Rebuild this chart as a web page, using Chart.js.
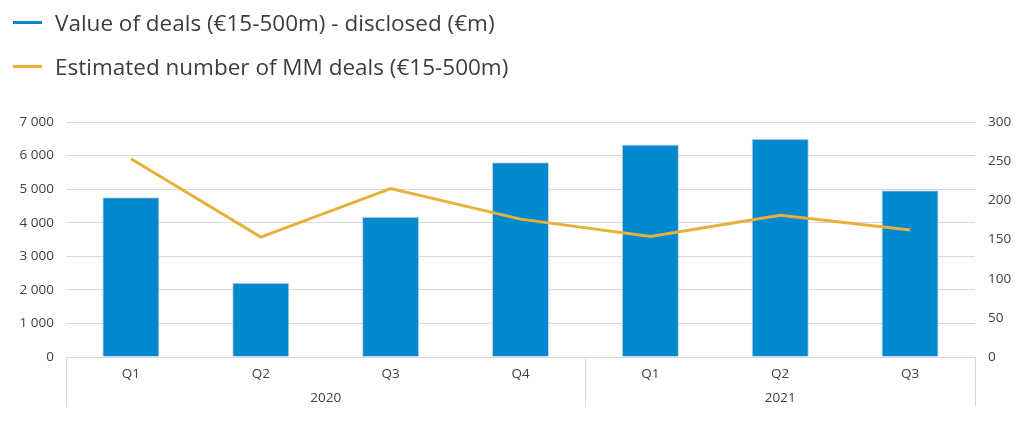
<!DOCTYPE html>
<html>
<head>
<meta charset="utf-8">
<script src="https://cdn.jsdelivr.net/npm/chart.js@4/dist/chart.umd.min.js"></script>
<style>
  html, body { margin: 0; padding: 0; background: #ffffff; }
  #wrap { position: relative; width: 1024px; height: 425px; overflow: hidden; }
  #chart { position: absolute; left: 0; top: 0; }
  .leg { position: absolute; left: 13px; display: flex; align-items: center; font-family: "Open Sans", sans-serif; font-size: 22.5px; color: #3d3d3d; white-space: nowrap; }
  .leg span.sw { display: inline-block; width: 29px; height: 3px; margin-right: 13px; }
</style>
</head>
<body>
<div id="wrap">
  <canvas id="chart" width="1024" height="425"></canvas>
  <div class="leg" style="top:7px"><span class="sw" style="background:#0089CF"></span><span id="l1"></span></div>
  <div class="leg" style="top:51px"><span class="sw" style="background:#E8B13C"></span><span id="l2"></span></div>
</div>
<script>
const categories = ['Q1', 'Q2', 'Q3', 'Q4', 'Q1', 'Q2', 'Q3'];
const years = ['2020', '2021'];
const yearSpans = [4, 3];
const dealValues = [4760, 2210, 4180, 5800, 6330, 6500, 4970];
const dealCounts = [253, 153, 215, 176, 154, 181, 162];
const valueLabel = 'Value of deals (€15-500m) - disclosed (€m)';
const countLabel = 'Estimated number of MM deals (€15-500m)';

document.getElementById('l1').textContent = valueLabel;
document.getElementById('l2').textContent = countLabel;

const tickFont = { family: '"Open Sans", sans-serif', size: 13.5 };
const tickColor = '#404040';
const gridColor = '#d9d9d9';

const yearAxisPlugin = {
  id: 'yearAxis',
  afterDraw(chart) {
    const ctx = chart.ctx;
    const xs = chart.scales.x;
    const area = chart.chartArea;
    const n = categories.length;
    const step = (xs.right - xs.left) / n;
    const bottom = area.bottom + 49;
    ctx.save();
    ctx.strokeStyle = gridColor;
    ctx.lineWidth = 1;
    let idx = 0;
    const bounds = [xs.left];
    yearSpans.forEach(s => { idx += s; bounds.push(xs.left + step * idx); });
    bounds.forEach(bx => {
      const px = Math.round(bx) + 0.5;
      ctx.beginPath();
      ctx.moveTo(px, area.bottom);
      ctx.lineTo(px, bottom);
      ctx.stroke();
    });
    ctx.fillStyle = tickColor;
    ctx.font = '13.5px "Open Sans", sans-serif';
    ctx.textAlign = 'center';
    ctx.textBaseline = 'middle';
    years.forEach((y, i) => {
      const cx = (bounds[i] + bounds[i + 1]) / 2;
      ctx.fillText(y, cx, area.bottom + 41);
    });
    ctx.restore();
  }
};

new Chart(document.getElementById('chart'), {
  data: {
    labels: categories,
    datasets: [
      {
        type: 'line',
        label: countLabel,
        data: dealCounts,
        yAxisID: 'y1',
        borderColor: '#E8B13C',
        backgroundColor: '#E8B13C',
        borderWidth: 3,
        pointRadius: 0,
        tension: 0,
        order: 0
      },
      {
        type: 'bar',
        label: valueLabel,
        data: dealValues,
        yAxisID: 'y',
        backgroundColor: '#0089CF',
        borderColor: 'rgba(205,205,205,0.9)',
        borderWidth: 1,
        barPercentage: 0.44,
        categoryPercentage: 1.0,
        order: 1
      }
    ]
  },
  options: {
    responsive: false,
    animation: false,
    layout: { padding: { left: 0, right: 0, top: 122, bottom: 0 } },
    plugins: { legend: { display: false }, tooltip: { enabled: false } },
    scales: {
      x: {
        type: 'category',
        grid: { display: false },
        border: { display: true, color: gridColor, width: 1 },
        ticks: { color: tickColor, font: tickFont, padding: 1, maxRotation: 0 },
        afterFit(s) { s.height = 68; }
      },
      y: {
        position: 'left',
        min: 0, max: 7000,
        ticks: {
          stepSize: 1000, color: tickColor, font: tickFont, padding: 12,
          callback: v => v === 0 ? '0' : String(v).replace(/\B(?=(\d{3})+(?!\d))/g, ' ')
        },
        grid: { color: gridColor, lineWidth: 1, drawTicks: false },
        border: { display: false },
        afterFit(s) { s.width = 66; }
      },
      y1: {
        position: 'right',
        min: 0, max: 300,
        ticks: { stepSize: 50, color: tickColor, font: tickFont, padding: 13 },
        grid: { display: false, drawTicks: false },
        border: { display: false },
        afterFit(s) { s.width = 49; }
      }
    }
  },
  plugins: [yearAxisPlugin]
});
</script>
</body>
</html>
